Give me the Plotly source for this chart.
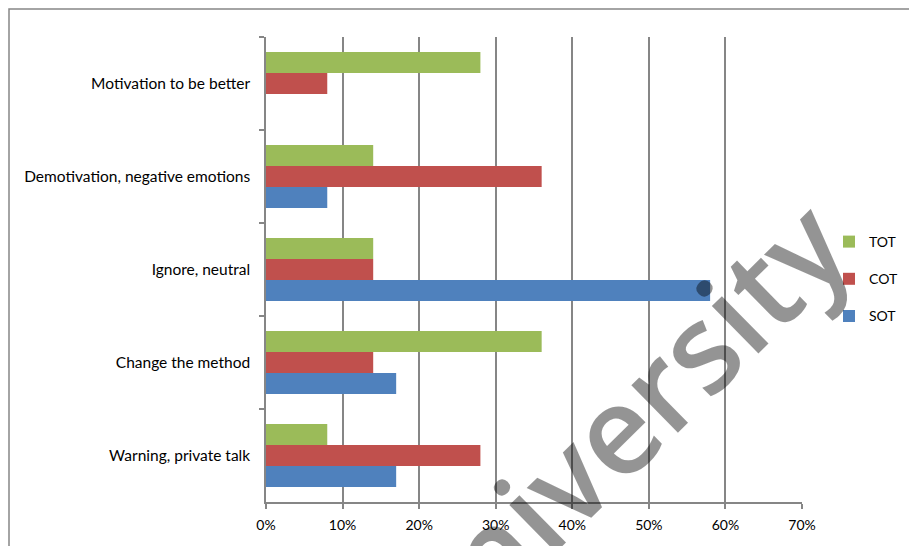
import plotly.graph_objects as go

# Responses to feedback, listed top-to-bottom
categories = [
    "Motivation to be better",
    "Demotivation, negative emotions",
    "Ignore, neutral",
    "Change the method",
    "Warning, private talk",
]
tot = [0.28, 0.14, 0.14, 0.36, 0.08]
cot = [0.08, 0.36, 0.14, 0.14, 0.28]
sot = [0.00, 0.08, 0.58, 0.17, 0.17]

series = [
    ("TOT", tot, "#9BBB59"),
    ("COT", cot, "#C0504D"),
    ("SOT", sot, "#4F81BD"),
]
x_ticks = [0, 0.1, 0.2, 0.3, 0.4, 0.5, 0.6, 0.7]

W, H = 909, 546
L, R, T, B = 266, 107, 37, 44
pw, ph = W - L - R, H - T - B

def px_x(x):
    return (x - L) / pw

def px_y(y):
    return (H - B - y) / ph

FONT = "Lato"
GRID = "#868686"

fig = go.Figure()
for name, vals, color in series:
    fig.add_trace(go.Bar(
        y=categories, x=vals, name=name, orientation="h",
        marker=dict(color=color, line=dict(width=0)),
        legendgroup=name,
    ))

fig.update_layout(
    width=W, height=H,
    margin=dict(l=L, r=R, t=T, b=B, pad=0, autoexpand=False),
    paper_bgcolor="white", plot_bgcolor="white",
    barmode="group", bargap=0.323, bargroupgap=0,
    font=dict(family=FONT, size=15, color="#000000"),
    showlegend=True,
    legend=dict(
        traceorder="grouped", x=px_x(829), y=px_y(279),
        xanchor="left", yanchor="middle",
        font=dict(family=FONT, size=14, color="#000000"),
        tracegroupgap=16, bgcolor="rgba(0,0,0,0)",
    ),
    xaxis=dict(
        range=[0, 0.7], tickvals=x_ticks, tickformat=".0%",
        showgrid=True, gridcolor=GRID, gridwidth=1.5,
        showline=True, linecolor=GRID, linewidth=1.5,
        ticks="outside", ticklen=5, tickcolor=GRID, tickwidth=1.5,
        ticklabelstandoff=4,
        tickfont=dict(family=FONT, size=14), zeroline=False,
    ),
    yaxis=dict(
        type="category", categoryorder="array", categoryarray=categories,
        autorange="reversed",
        showgrid=False, showline=True, linecolor=GRID, linewidth=1.5,
        ticks="outside", ticklen=5, tickcolor=GRID, tickwidth=1.5,
        tickson="boundaries", ticklabelstandoff=11,
        tickfont=dict(family=FONT, size=15.5),
    ),
)

# outer chart frame (left and top edges)
fig.add_shape(type="rect", xref="paper", yref="paper",
              x0=px_x(9), y0=px_y(700), x1=px_x(1100), y1=px_y(9),
              line=dict(color=GRID, width=1.5), fillcolor="rgba(0,0,0,0)",
              layer="below")

# watermark
fig.add_annotation(
    text="University", xref="paper", yref="paper",
    x=px_x(609), y=px_y(433), xanchor="center", yanchor="middle",
    showarrow=False, textangle=-44.5,
    font=dict(family="Open Sans", size=123, weight=600,
              color="rgba(0,0,0,0.42)"),
)

fig.write_html("out.html")
